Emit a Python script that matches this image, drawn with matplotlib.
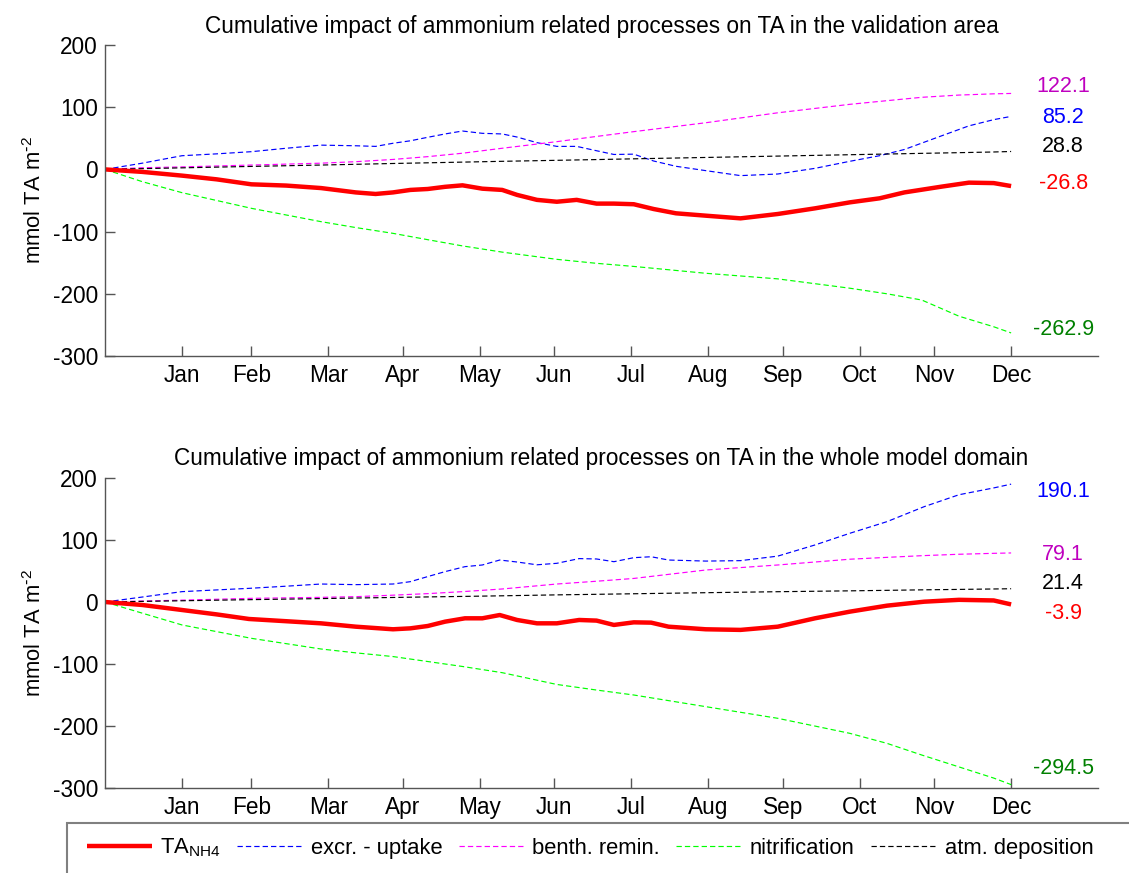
import matplotlib
matplotlib.use('Agg')
import matplotlib.pyplot as plt
from matplotlib.patches import Rectangle

plt.rcParams['font.family'] = ['Liberation Sans', 'DejaVu Sans']
plt.rcParams['mathtext.default'] = 'regular'
plt.rcParams['axes.unicode_minus'] = False

# ---------------- data ----------------
months = ['Jan', 'Feb', 'Mar', 'Apr', 'May', 'Jun',
          'Jul', 'Aug', 'Sep', 'Oct', 'Nov', 'Dec']
month_days = [31, 59, 90, 120, 151, 181, 212, 243, 273, 304, 334, 365]

series_names = ['TA$_{NH4}$', 'excr. - uptake', 'benth. remin.',
                'nitrification', 'atm. deposition']

# validation area
va_days = [0, 15, 31, 45, 59, 73, 87, 101, 109, 116, 123, 130, 137, 144, 152,
           160, 166, 174, 182, 190, 198, 205, 213, 221, 230, 242, 256, 271,
           286, 300, 312, 322, 337, 348, 358, 365]
va_ta = [0, -4, -10, -16, -24, -26, -30, -37, -39.5, -37, -33, -31.5, -28,
         -25.6, -31, -33, -41, -49, -52, -49, -55, -55, -56, -63.7, -70.6,
         -74.4, -78.7, -71.7, -62.6, -53, -46.5, -37, -27.7, -21.3, -22, -26.8]
va_excr = [0, 10, 22, 25, 28.5, 34, 39, 38, 37, 42, 46, 51.6, 57, 61.7, 58,
           57, 52, 43, 37, 37, 30, 24, 24.5, 13.5, 5, -2, -10, -7.4, 1.7, 13,
           22, 32, 54, 70, 80, 85.2]
smooth_days = [0, 15, 31, 59, 87, 101, 116, 130, 144, 160, 182, 198, 213, 242,
               271, 300, 315, 329, 344, 358, 365]
va_benth = [0, 2.7, 4, 7, 10, 12.4, 16, 20.5, 26, 34, 44.6, 53, 60.7, 75, 91,
            104.6, 110.5, 115.9, 119.5, 121.5, 122.1]
va_atm = [0, 1.2, 2.5, 4.8, 7, 8.2, 9.5, 10.6, 11.7, 13, 14.6, 15.8, 17, 19.2,
          21.4, 23.6, 24.7, 25.8, 26.9, 28, 28.8]
va_nitr = [0, -19.7, -37.4, -62.6, -84, -93.5, -102.8, -113, -123, -133,
           -144.6, -151, -156, -167, -176, -191, -200, -210, -236, -253, -262.9]

# whole model domain
wd_days = [0, 15, 31, 45, 58, 73, 87, 101, 116, 123, 130, 137, 145, 152, 159,
           166, 174, 182, 191, 198, 205, 213, 220, 227, 242, 256, 271, 286,
           300, 315, 330, 344, 358, 365]
wd_ta = [0, -4.8, -12.9, -20, -27.4, -31, -34.4, -39.8, -44, -42.5, -38.7,
         -31.7, -26.3, -26.3, -21, -29, -34.4, -34.4, -29, -30, -37, -32.8,
         -33.3, -39.8, -44, -45, -39.8, -26.3, -15.6, -5.9, 0.5, 3.5, 2.5, -3.9]
wd_excr = [0, 8, 16.7, 19.5, 22, 25.5, 29, 28, 29, 32.8, 41, 49, 57, 59.7,
           67.7, 64.5, 60, 62.4, 70, 69.4, 65, 71.5, 73, 67.7, 66, 66.7, 74, 92,
           110.8, 129.6, 153.8, 173, 184, 190.1]
wd_benth = [0, 1.5, 3, 5.9, 7.5, 8.6, 11, 13.5, 16.7, 21, 29, 33.5, 38, 51.6,
            59.7, 69, 72, 74.7, 77, 78.5, 79.1]
wd_atm = [0, 1, 2, 3.8, 5.5, 6.4, 7.3, 8.2, 9, 10, 11.5, 12.4, 13.3, 15, 16.6,
          18, 18.8, 19.6, 20.3, 21, 21.4]
wd_nitr = [0, -18, -37, -58.6, -75.8, -82, -88, -96, -104, -114, -133, -142,
           -150, -168.8, -187.6, -211.8, -228, -246.8, -266, -284, -294.5]

# end labels (value text) in order: TA, excr, benth, nitr, atm
va_end = ['-26.8', '85.2', '122.1', '-262.9', '28.8']
wd_end = ['-3.9', '190.1', '79.1', '-294.5', '21.4']
# label vertical placement (data units), layout only
va_label_y = [-21.9, 84.2, 133, -258, 37.6]
wd_label_y = [-18.2, 178.5, 76.7, -268.8, 30.0]

titles = ['Cumulative impact of ammonium related processes on TA in the validation area',
          'Cumulative impact of ammonium related processes on TA in the whole model domain']

# ---------------- style ----------------
line_colors = ['#ff0000', '#0000ff', '#ff00ff', '#00ff00', '#000000']
text_colors = ['#ff0000', '#0000ff', '#bf00bf', '#008000', '#000000']
FS_TICK = 16.3
FS_LAB = 15.5
W, H = 1129, 873

fig = plt.figure(figsize=(W / 100, H / 100), dpi=100)
ax1 = fig.add_axes([105 / W, 1 - 356 / H, 993 / W, 311 / H])
ax2 = fig.add_axes([105 / W, 1 - 788 / H, 993 / W, 310 / H])

panels = [
    (ax1, va_days, va_ta, va_excr, va_benth, va_nitr, va_atm, va_end, va_label_y, titles[0]),
    (ax2, wd_days, wd_ta, wd_excr, wd_benth, wd_nitr, wd_atm, wd_end, wd_label_y, titles[1]),
]

handles = None
for ax, d, ta, ex, be, ni, at, ends, ly, title in panels:
    h_ex, = ax.plot(d, ex, color=line_colors[1], lw=0.85, dashes=(4.5, 2.6))
    h_be, = ax.plot(smooth_days, be, color=line_colors[2], lw=0.85, dashes=(4.5, 2.6))
    h_ni, = ax.plot(smooth_days, ni, color=line_colors[3], lw=0.85, dashes=(4.5, 2.6))
    h_at, = ax.plot(smooth_days, at, color=line_colors[4], lw=0.85, dashes=(4.5, 2.6))
    h_ta, = ax.plot(d, ta, color=line_colors[0], lw=3.2, solid_capstyle='butt')
    handles = [h_ta, h_ex, h_be, h_ni, h_at]

    for txt, yv, c in zip(ends, ly, text_colors):
        ax.text(386, yv, txt, color=c, fontsize=FS_LAB, ha='center', va='center')

    ax.set_xlim(0, 400)
    ax.set_ylim(-300, 200)
    ax.set_xticks(month_days)
    ax.set_xticklabels(months)
    ax.set_yticks([-300, -200, -100, 0, 100, 200])
    ax.tick_params(direction='in', length=7, width=1, colors='#555555',
                   labelcolor='black', labelsize=FS_TICK)
    ax.tick_params(axis='x', pad=6)
    ax.tick_params(axis='y', pad=5)
    for s in ['top', 'right']:
        ax.spines[s].set_visible(False)
    for s in ['left', 'bottom']:
        ax.spines[s].set_color('#555555')
        ax.spines[s].set_linewidth(1.0)
    ax.set_ylabel('mmol TA m$^{\\text{-}2}$', fontsize=15.8, labelpad=5)
    ax.set_title(title, fontsize=16.3, pad=9)

# legend box extending past the figure edges
rect = Rectangle((67 / W, -0.05), 1.0, (0.05 + 1 - 823 / H),
                 transform=fig.transFigure, facecolor='white',
                 edgecolor='#808080', linewidth=1.5, clip_on=False)
fig.add_artist(rect)
fig.legend(handles, series_names, loc='center', ncol=5, frameon=False,
           bbox_to_anchor=(590 / W, 1 - 848 / H), fontsize=15.8,
           handlelength=3.0, handletextpad=0.35, columnspacing=0.75,
           borderpad=0, borderaxespad=0)

fig.savefig('out.png', dpi=100)
